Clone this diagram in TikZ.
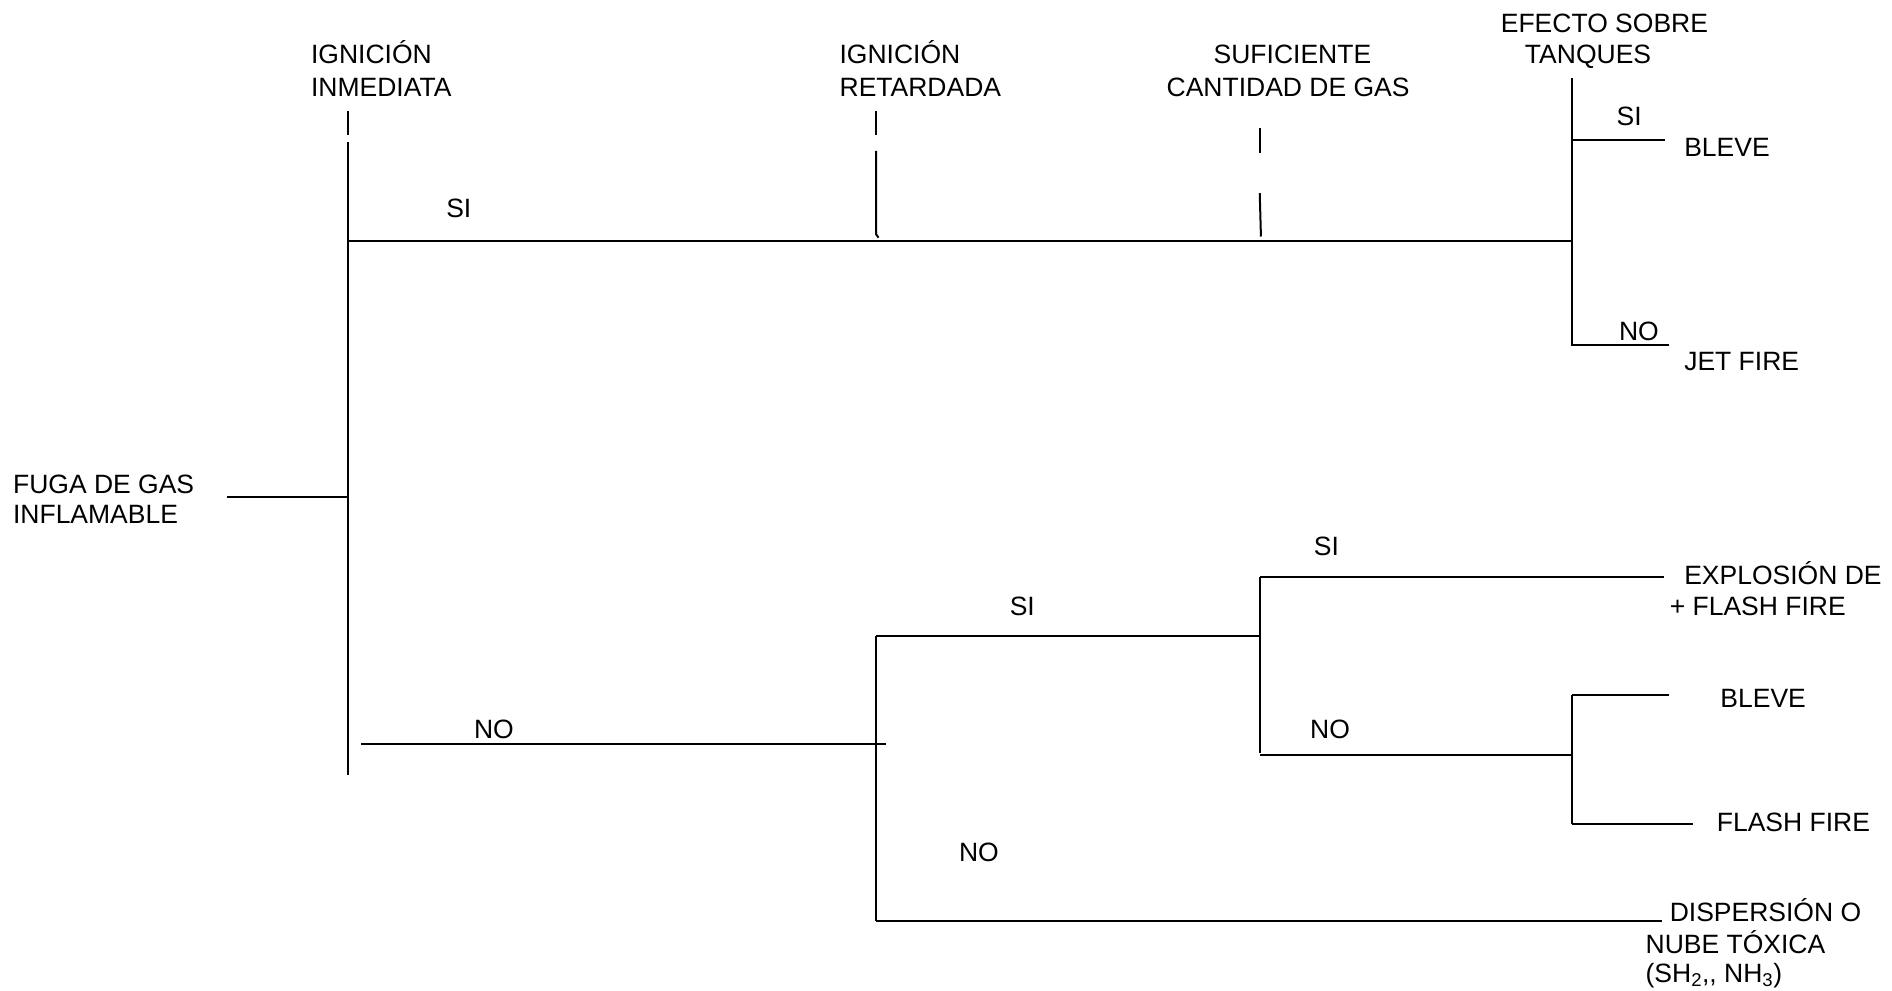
\documentclass[tikz,border=0pt]{standalone}
\usepackage{fontspec}
\setmainfont{Liberation Sans}
\begin{document}
\begin{tikzpicture}[x=1.2066pt,y=-1.2066pt,
  line width=2pt, line cap=butt,
  lbl/.style={inner sep=0pt, anchor=base west, font=\fontsize{26.5}{32}\selectfont}]
\useasboundingbox (0,0) rectangle (1568,821);
% ---- text ----
\node[lbl] (ii1) at (257,53) {IGNICIÓN};
\node[lbl] (ii2) at (257,80) {INMEDIATA};
\node[lbl] (ir1) at (695,53) {IGNICIÓN};
\node[lbl] (ir2) at (695,80) {RETARDADA};
\node[lbl] (sc1) at (1005,53) {SUFICIENTE};
\node[lbl] (sc2) at (966,80) {CANTIDAD DE GAS};
\node[lbl] (et1) at (1243,27) {EFECTO SOBRE};
\node[lbl] (et2) at (1263,53) {TANQUES};
\node[lbl] (fg1) at (10,409) {FUGA DE GAS};
\node[lbl] (fg2) at (10,434) {INFLAMABLE};
\node[lbl] (si1) at (369,180) {SI};
\node[lbl] (si2) at (1339,104) {SI};
\node[lbl] (bl1) at (1395,130) {BLEVE};
\node[lbl] (no1) at (1341,282) {NO};
\node[lbl] (jf)  at (1395,307) {JET FIRE};
\node[lbl] (no2) at (392,612) {NO};
\node[lbl] (si3) at (836,510) {SI};
\node[lbl] (si4) at (1088,460) {SI};
\node[lbl] (ex1) at (1395,484) {EXPLOSIÓN DE};
\node[lbl] (ex2) at (1383,510) {+ FLASH FIRE};
\node[lbl] (no3) at (1085,612) {NO};
\node[lbl] (bl2) at (1425,586) {BLEVE};
\node[lbl] (ff)  at (1422,689) {FLASH FIRE};
\node[lbl] (no4) at (794,714) {NO};
\node[lbl] (ds1) at (1383,764) {DISPERSIÓN O};
\node[lbl] (ds2) at (1363,790) {NUBE TÓXICA};
\node[lbl] (ds3) at (1363,814) {(SH\textsubscript{2}{,}{,} NH\textsubscript{3})};
% ---- coordinates ----
\coordinate (fgE) at (188,412);
\coordinate (mT0) at (288,92);
\coordinate (mT1) at (288,112);
\coordinate (mTop) at (288,118);
\coordinate (mFg) at (288,412);
\coordinate (mSi) at (288,200);
\coordinate (mBot) at (288,642);
\coordinate (eSi) at (1303,200);
\coordinate (eTop) at (1303,65);
\coordinate (eBot) at (1303,287);
\coordinate (eS) at (1303,116);
\coordinate (eSE) at (1380,116);
\coordinate (eN) at (1303,286);
\coordinate (eNE) at (1383,286);
\coordinate (noS) at (299,617);
\coordinate (noE) at (734,617);
\coordinate (rT) at (726,527);
\coordinate (rB) at (726,763);
\coordinate (sT) at (1044,527);
\coordinate (sTop) at (1044,478);
\coordinate (sBot) at (1044,624);
\coordinate (sSiE) at (1379,478);
\coordinate (sNo) at (1044,626);
\coordinate (tNo) at (1303,626);
\coordinate (tT) at (1303,576);
\coordinate (tB) at (1303,683);
\coordinate (tTE) at (1383,576);
\coordinate (tBE) at (1403,683);
\coordinate (dE) at (1377,763);
% ---- lines ----
\draw (fgE) -- (mFg);
\draw (mT0) -- (mT1);
\draw (mTop) -- (mBot);
\draw (mSi) -- (eSi);
\draw (726,92) -- (726,112);
\draw (726,125) -- (726,194) -- (728,197);
\draw (1044,106) -- (1044,127);
\draw (1044,160) -- (1045,196);
\draw (eTop) -- (eBot);
\draw (eS) -- (eSE);
\draw (eN) -- (eNE);
\draw (noS) -- (noE);
\draw (rT) -- (rB);
\draw (rT) -- (sT);
\draw (sTop) -- (sBot);
\draw (sTop) -- (sSiE);
\draw (sNo) -- (tNo);
\draw (tT) -- (tB);
\draw (tT) -- (tTE);
\draw (tB) -- (tBE);
\draw (rB) -- (dE);
\end{tikzpicture}
\end{document}
